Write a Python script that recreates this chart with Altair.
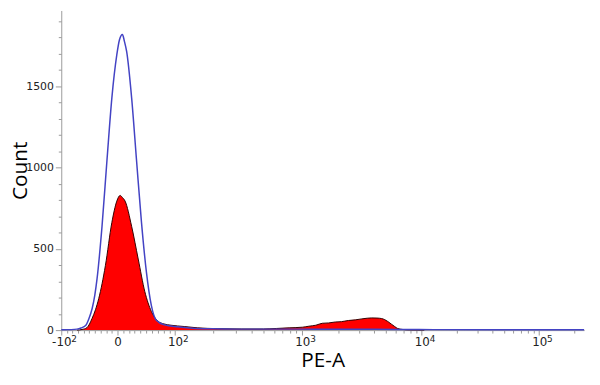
import altair as alt
import pandas as pd
import numpy as np

# Display-channel positions (0-1024, biexponential display) and counts
blue_ch = [0, 19.3, 30.9, 38.6, 47.7, 54.1, 60.5, 65.7, 70.1, 79.8, 89.5, 99.1, 108.8, 114, 119.8,
           123.7, 128.1, 137.8, 147.4, 157.1, 166.7, 176.4, 186.1, 202.3, 228, 257, 295.6, 344,
           402, 460, 537, 614, 672, 730, 846, 962, 1024]
blue_count = [2, 3, 6, 13, 28, 70, 133, 215, 316, 638, 1044, 1428, 1693, 1785, 1817,
              1775, 1712, 1428, 1044, 662, 358, 152, 61, 32, 20, 12, 8, 6,
              6, 6, 5, 5, 4, 3, 2, 2, 2]

red_ch = [30.9, 40.6, 50.2, 60.5, 67, 73.4, 86.4, 99.1, 108.8, 115.3, 119.8, 125, 137.8, 150.7,
          163.6, 176.4, 189.3, 201, 215, 240.9, 266.6, 305.3, 353.6, 396, 421.2, 446.3, 472.8,
          485, 498.5, 511.4, 523.6, 537.1, 548.7, 562.2, 575.8, 588.7, 599, 608, 618.3, 627.4,
          633.7, 639.5, 647.3, 653, 658.8, 668.5, 682, 711]
red_count = [0, 4, 15, 73, 125, 194, 396, 662, 793, 828, 815, 793, 638, 437,
             237, 115, 55, 38, 30, 22, 14, 9, 7, 7, 10, 14, 18,
             24, 30, 42, 44, 50, 52, 59, 63, 69, 73, 75, 74, 71,
             64, 53, 35, 22, 10, 4, 1, 0]

# Axis ticks (display-channel positions of the decade marks)
x_major_vals = [0, 110, 223, 472, 706, 936]
x_major_base = ["-10", "0", "10", "10", "10", "10"]
x_major_exp = ["2", "", "2", "3", "4", "5"]

# minor ticks: linear region around zero, log spacing in the decades
minor = []
for v in range(10, 100, 10):
    minor.append(round(110 - v * 1.10, 1))
    minor.append(round(110 + v * 1.13, 1))
for lo, hi in [(223, 472), (472, 706), (706, 936), (936, 1166)]:
    for m in range(2, 10):
        p = round(lo + (hi - lo) * np.log10(m), 1)
        if p < 1024:
            minor.append(p)
x_tick_vals = sorted(x_major_vals + minor)

label_expr = "''"
for v, lab in zip(reversed(x_major_vals), reversed(x_major_base)):
    label_expr = f"datum.value == {v} ? '{lab}' : ({label_expr})"

y_tick_vals = list(range(0, 2000, 100))

df_blue = pd.DataFrame({"ch": blue_ch, "count": blue_count})
df_red = pd.DataFrame({"ch": red_ch, "count": red_count})
df_exp = pd.DataFrame({"ch": x_major_vals, "exp": x_major_exp, "base": x_major_base})
df_exp = df_exp[df_exp["exp"] != ""]

major_test = "indexof([" + ",".join(str(v) for v in x_major_vals) + "], datum.value) >= 0"

x_axis = alt.Axis(
    values=x_tick_vals,
    labelExpr=label_expr,
    labelOverlap=False,
    labelFlush=False,
    labelFontSize=12,
    tickSize={"condition": {"test": major_test, "value": 5}, "value": 3},
    grid=False,
    labelPadding=2,
    titlePadding=2,
)
y_axis = alt.Axis(
    values=y_tick_vals,
    labelExpr="datum.value % 500 === 0 ? datum.label : ''",
    format="d",
    labelOverlap=False,
    tickSize={"condition": {"test": "datum.value % 500 === 0", "value": 6}, "value": 3},
    grid=False,
    labelPadding=2,
    titlePadding=-5,
)

x_enc = alt.X("ch:Q", scale=alt.Scale(domain=[0, 1024], nice=False, zero=False), axis=x_axis, title="PE-A")
y_enc = alt.Y("count:Q", scale=alt.Scale(domain=[0, 1965], nice=False), axis=y_axis, title="Count")

red = alt.Chart(df_red).mark_area(
    color="#ff0000", opacity=1, interpolate="monotone",
    line={"color": "#300000", "strokeWidth": 1}
).encode(x=x_enc, y=y_enc)

blue = alt.Chart(df_blue).mark_line(
    color="#4343c4", strokeWidth=1.5, interpolate="monotone"
).encode(x=x_enc, y=y_enc)

# superscript exponents of the decade labels
exp_neg = alt.Chart(df_exp[df_exp["base"] == "-10"]).mark_text(
    align="left", baseline="top", dx=10, fontSize=9, font="DejaVu Sans", color="#222222"
).encode(x=x_enc, y=alt.value(329), text="exp:N")
exp_pos = alt.Chart(df_exp[df_exp["base"] == "10"]).mark_text(
    align="left", baseline="top", dx=8, fontSize=9, font="DejaVu Sans", color="#222222"
).encode(x=x_enc, y=alt.value(329), text="exp:N")

chart = alt.layer(red, blue, exp_neg, exp_pos).properties(
    width=530, height=324,
    autosize=alt.AutoSizeParams(type="none"),
    padding={"left": 54, "top": 0, "right": 8, "bottom": 44},
).configure_view(stroke=None).configure_axis(
    domainColor="#9a9a9a",
    tickColor="#9a9a9a",
    labelColor="#222222",
    labelFont="DejaVu Sans",
    labelFontSize=11,
    titleFont="Open Sans",
    titleFontSize=21,
    titleFontWeight="normal",
    titleColor="#000000",
)

chart.save("out.html", embed_options={"renderer": "svg", "actions": False})
